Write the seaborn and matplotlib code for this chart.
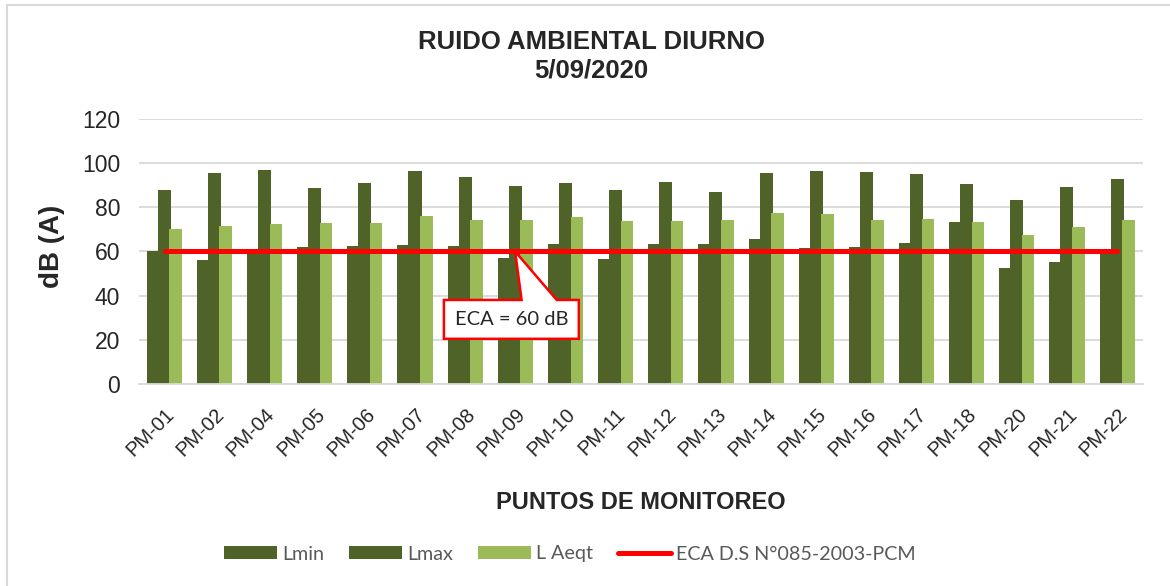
import numpy as np
import pandas as pd
import matplotlib.pyplot as plt
import seaborn as sns
from matplotlib.patches import Rectangle, Polygon

# Data
puntos = ['PM-01', 'PM-02', 'PM-04', 'PM-05', 'PM-06', 'PM-07', 'PM-08', 'PM-09', 'PM-10', 'PM-11',
          'PM-12', 'PM-13', 'PM-14', 'PM-15', 'PM-16', 'PM-17', 'PM-18', 'PM-20', 'PM-21', 'PM-22']
lmin = [60.0, 56.0, 60.8, 61.9, 62.5, 62.8, 62.5, 57.2, 63.3, 56.6,
        63.3, 63.3, 65.8, 61.4, 61.9, 63.6, 73.4, 52.7, 55.3, 60.0]
lmax = [87.7, 95.3, 97.1, 88.9, 91.0, 96.5, 93.9, 89.5, 91.0, 87.6,
        91.3, 87.0, 95.3, 96.6, 95.9, 95.0, 90.6, 83.3, 89.4, 92.7]
laeqt = [70.2, 71.4, 72.5, 72.8, 72.9, 75.9, 74.3, 74.1, 75.5, 73.7,
         73.7, 74.3, 77.6, 76.8, 74.4, 74.7, 73.4, 67.5, 71.1, 74.0]
eca = [60] * len(puntos)

dark_green = '#4F6228'
light_green = '#9BBB59'

sns.set_style('white')
plt.rcParams['font.family'] = ['Liberation Sans', 'DejaVu Sans']
calibri_like = ['Lato', 'DejaVu Sans']

pos = np.arange(len(puntos))
df = pd.DataFrame({'pos': pos, 'Lmin': lmin, 'Lmax': lmax, 'L Aeqt': laeqt, 'ECA': eca})

fig = plt.figure(figsize=(11.7, 5.86), dpi=100)
ax = fig.add_axes([0.1192, 0.345, 0.8573, 0.452])

# Bars (Lmin wider and behind, like the Excel original)
sns.barplot(x=df['pos'] - 0.13, y=df['Lmin'], native_scale=True, width=0.45,
            color=dark_green, saturation=1, ax=ax, zorder=2, label='Lmin', linewidth=0)
sns.barplot(x=df['pos'] - 0.006, y=df['Lmax'], native_scale=True, width=0.26,
            color=dark_green, saturation=1, ax=ax, zorder=2.1, label='Lmax', linewidth=0)
sns.barplot(x=df['pos'] + 0.22, y=df['L Aeqt'], native_scale=True, width=0.25,
            color=light_green, saturation=1, ax=ax, zorder=2.2, label='L Aeqt', linewidth=0)
sns.lineplot(x=df['pos'], y=df['ECA'], color='#FF0000', linewidth=3.6, ax=ax,
             zorder=4, label='ECA D.S N°085-2003-PCM', solid_capstyle='round')

ax.set_xlim(-0.5, len(puntos) - 0.5)
ax.set_ylim(0, 120)
ax.set_yticks(range(0, 121, 20))
ax.set_xticks(pos)
ax.set_xticklabels(puntos, rotation=45, ha='right', rotation_mode='anchor', fontsize=14.5)
ax.tick_params(axis='y', labelsize=16.5, pad=14, length=0)
ax.tick_params(axis='x', length=0, pad=15)
ax.yaxis.grid(True, color='#D9D9D9', linewidth=1.3, zorder=0)
ax.set_axisbelow(True)
for side in ['top', 'right', 'left']:
    ax.spines[side].set_visible(False)
ax.spines['bottom'].set_color('#D9D9D9')
ax.spines['bottom'].set_linewidth(1.3)

ax.set_ylabel('dB (A)', fontsize=20, fontweight='bold')
ax.yaxis.set_label_coords(-0.074, 0.519)
ax.set_xlabel('PUNTOS DE MONITOREO', fontsize=17, fontweight='bold')
ax.xaxis.set_label_coords(0.5, -0.405)
fig.suptitle('RUIDO AMBIENTAL DIURNO\n5/09/2020', x=0.5056, y=1 - 30 / 586, va='top',
             fontsize=18.5, fontweight='bold', linespacing=1.25)

# Callout box "ECA = 60 dB"
callout = Polygon([(5.57, 38), (7.12, 38), (6.99, 60), (7.82, 38), (8.26, 38),
                   (8.26, 20.4), (5.57, 20.4)], closed=True, facecolor='white',
                  edgecolor='#FF0000', linewidth=1.8, zorder=3.5)
ax.add_patch(callout)
ax.text(6.915, 29.2, 'ECA = 60 dB', ha='center', va='center', fontsize=14.5,
        family=calibri_like, zorder=5)

# Legend, same order as the original
handles, labels = ax.get_legend_handles_labels()
order = [labels.index(n) for n in ['Lmin', 'Lmax', 'L Aeqt', 'ECA D.S N°085-2003-PCM']]
leg_size = 14.2
fs_px = leg_size * 100 / 72
leg = fig.legend([handles[i] for i in order], [labels[i] for i in order], loc='center',
                 bbox_to_anchor=(570 / 1170, 1 - 554 / 586), ncol=4, frameon=False,
                 handlelength=53 / fs_px, handleheight=13 / fs_px, columnspacing=25 / fs_px,
                 handletextpad=5 / fs_px, prop={'family': calibri_like, 'size': leg_size})
for t in leg.get_texts():
    t.set_color('#595959')
ax.get_legend().remove()

# Chart area border
fig.patches.append(Rectangle((0.0056, -0.1), 1.2, 1.0923, transform=fig.transFigure,
                             fill=False, edgecolor='#D9D9D9', linewidth=1.5))

fig.savefig('out.png', dpi=100)
